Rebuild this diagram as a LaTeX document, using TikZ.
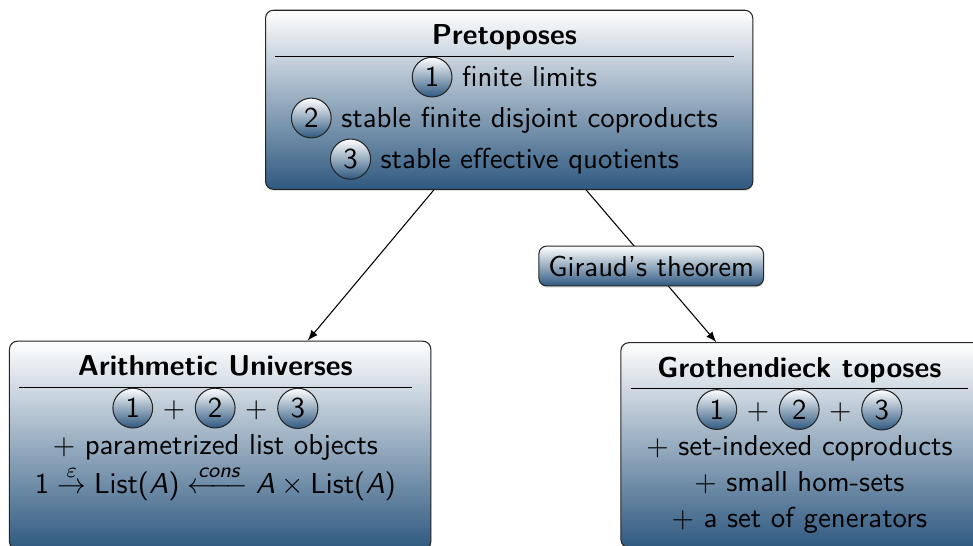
\documentclass[11pt,tikz,border=0pt]{standalone}
\usepackage{amssymb}
\usepackage{amsmath}
\usepackage[dvipsnames]{xcolor}
\usepackage{tikz}
\usetikzlibrary{positioning, arrows, shapes, shadows}

% sans serif math, as on the slides
\DeclareSymbolFont{cmletters}{OML}{cmm}{m}{it}
\SetSymbolFont{operators}{normal}{OT1}{cmss}{m}{n}
\SetSymbolFont{letters}{normal}{OT1}{cmss}{m}{it}
\DeclareMathSymbol{\varepsilon}{\mathord}{cmletters}{"22}

\definecolor{deepblue}{RGB}{47,89,128}

\tikzset{
  block/.style={draw=black!85, rounded corners=3pt, top color=white,
    bottom color=deepblue, font=\sffamily, anchor=north,
    drop shadow={opacity=0.25, shadow xshift=0.2pt, shadow yshift=-0.6pt}},
  ball/.style={circle, draw=black!85, top color=white, bottom color=deepblue,
    inner sep=2.1pt, font=\sffamily},
  tag/.style={draw=black!85, rounded corners=3pt, top color=white,
    bottom color=deepblue, font=\sffamily,
    drop shadow={opacity=0.25, shadow xshift=0.2pt, shadow yshift=-0.6pt}},
}
\newcommand{\nball}[1]{\tikz[baseline=(n.base)] \node[ball] (n) {#1};}

\begin{document}
\begin{tikzpicture}
    \useasboundingbox (0,0) rectangle (12.995,-7.292);
    \node[block] (pre) at (6.80,-0.13)
    {\begin{tabular}{c}
      \textbf{Pretoposes} \\ \hline
      \nball{1} finite limits \\
      \nball{2} stable finite disjoint coproducts \\
      \nball{3} stable effective quotients
    \end{tabular}\kern3.6pt};
    \node[block] (au) at (2.94,-4.55)
    {\begin{tabular}{c}
      \textbf{Arithmetic Universes} \\ \hline
      \nball{1} $+$ \nball{2} $+$ \nball{3} \\
      $+$ parametrized list objects \\
      $1 \overset{\varepsilon}{\to} \mathrm{List}(A) \xleftarrow{cons} A \times \mathrm{List}(A)$ \\
      ~
    \end{tabular}\kern3.6pt};
    \node[block] (gt) at (10.74,-4.57)
    {\begin{tabular}{c}
      \textbf{Grothendieck toposes} \\ \hline
      \nball{1} $+$ \nball{2} $+$ \nball{3} \\
      $+$ set-indexed coproducts \\
      $+$ small hom-sets \\
      $+$ a set of generators
    \end{tabular}\kern3.6pt};
    \path[->, >=latex]
      (pre) edge (au)
            edge node[tag] {Giraud's theorem} (gt);
\end{tikzpicture}
\end{document}
